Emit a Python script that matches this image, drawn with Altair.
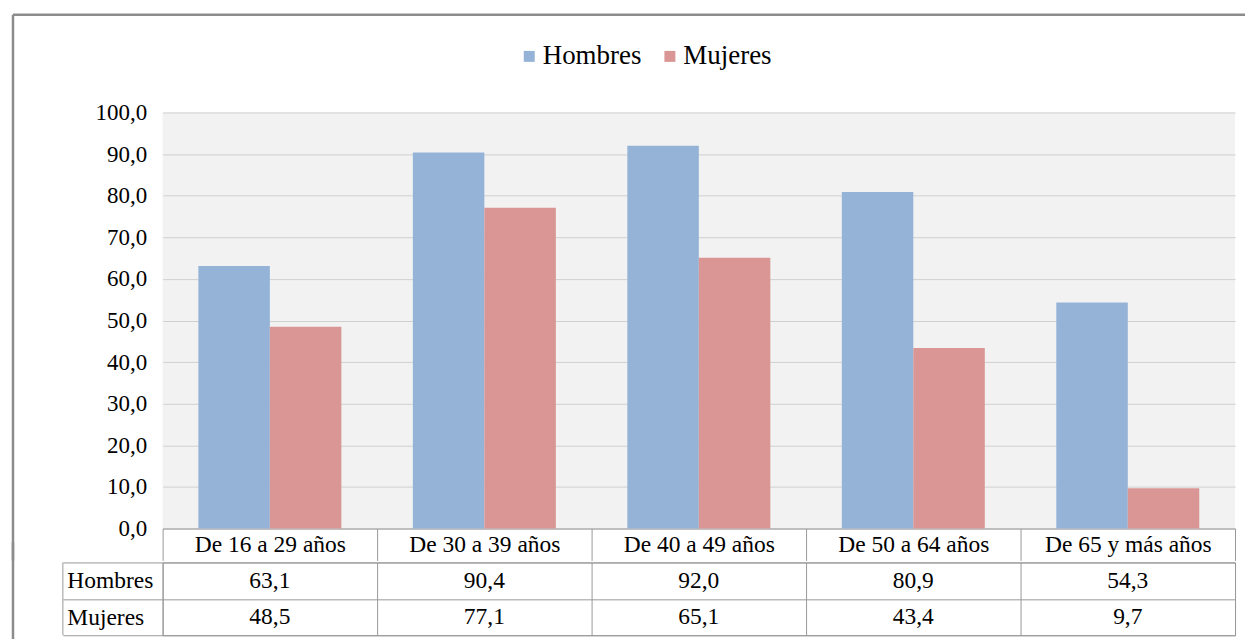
import altair as alt
import pandas as pd

categories = ["De 16 a 29 años", "De 30 a 39 años", "De 40 a 49 años",
              "De 50 a 64 años", "De 65 y más años"]
series = ["Hombres", "Mujeres"]
hombres = [63.1, 90.4, 92.0, 80.9, 54.3]
mujeres = [48.5, 77.1, 65.1, 43.4, 9.7]
colors = ["#95B3D7", "#D99694"]
y_ticks = [0, 10, 20, 30, 40, 50, 60, 70, 80, 90, 100]

rows = []
for c, h, m in zip(categories, hombres, mujeres):
    rows.append({"cat": c, "serie": "Hombres", "valor": h})
    rows.append({"cat": c, "serie": "Mujeres", "valor": m})
df = pd.DataFrame(rows)
df["texto"] = df["valor"].map(lambda v: f"{v:.1f}".replace(".", ","))
one = pd.DataFrame({"k": [0]})

FONT = "Liberation Serif"
LINE = "#999999"
FRAME = "#8c8c8c"

x_top = alt.X(
    "cat:N", sort=categories, title=None,
    scale=alt.Scale(paddingInner=0, paddingOuter=0),
    axis=alt.Axis(labelFont=FONT, labelFontSize=23.5, labelColor="#000000",
                  labelAngle=0, labelBaseline="middle", labelPadding=-16,
                  tickBand="extent", tickSize=32, tickColor=LINE,
                  domainColor=LINE, grid=False, labelLimit=300))

bars = alt.Chart(df).mark_bar().encode(
    x=x_top,
    xOffset=alt.XOffset("serie:N", sort=series,
                        scale=alt.Scale(paddingInner=0, paddingOuter=0.5)),
    y=alt.Y("valor:Q", title=None,
            scale=alt.Scale(domain=[0, 100], nice=False),
            axis=alt.Axis(values=y_ticks,
                          labelExpr="replace(format(datum.value, '.1f'), '.', ',')",
                          labelFont=FONT, labelFontSize=23, labelColor="#000000",
                          labelPadding=16, ticks=False, domain=False,
                          gridColor="#d0d0d0", gridWidth=1)),
    color=alt.Color("serie:N", sort=series,
                    scale=alt.Scale(domain=series, range=colors),
                    legend=alt.Legend(title=None, orient="none", direction="horizontal",
                                      legendX=354, legendY=-70,
                                      symbolType="square", symbolSize=121,
                                      symbolStrokeWidth=0, labelFont=FONT,
                                      labelFontSize=27, labelColor="#000000",
                                      labelOffset=0, columnPadding=15)),
)

frame_v = alt.Chart(one).mark_rule(color=FRAME, strokeWidth=2.5).encode(
    x=alt.value(-150), y=alt.value(-98), y2=alt.value(449))
frame_h = alt.Chart(one).mark_rule(color=FRAME, strokeWidth=2.5).encode(
    x=alt.value(-150), x2=alt.value(1085), y=alt.value(-98))

top = alt.layer(bars, frame_v, frame_h).properties(
    width=1075, height=417,
    view=alt.ViewBackground(fill="#f2f2f2", strokeWidth=0))

x_tab = alt.X(
    "cat:N", sort=categories, title=None,
    scale=alt.Scale(paddingInner=0, paddingOuter=0),
    axis=alt.Axis(labels=False, ticks=False, domain=False, grid=True,
                  tickBand="extent", gridColor=LINE))
y_tab = alt.Y(
    "serie:N", sort=series, title=None,
    scale=alt.Scale(paddingInner=0, paddingOuter=0),
    axis=alt.Axis(labelFont=FONT, labelFontSize=23.5, labelColor="#000000",
                  labelAlign="left", labelPadding=-4, tickSize=100,
                  tickBand="extent", tickColor=LINE, domain=False,
                  grid=True, gridColor=LINE))

cells = alt.Chart(df).mark_text(font=FONT, fontSize=23.5, color="#000000").encode(
    x=x_tab, y=y_tab, text="texto:N")
left_line = alt.Chart(one).mark_rule(color=LINE).encode(
    x=alt.value(-100), y=alt.value(0), y2=alt.value(73))
frame_v2 = alt.Chart(one).mark_rule(color=FRAME, strokeWidth=2.5).encode(
    x=alt.value(-150), y=alt.value(-20), y2=alt.value(78))

table = alt.layer(cells, left_line, frame_v2).properties(
    width=1075, height=73,
    view=alt.ViewBackground(stroke=LINE, strokeWidth=1))

chart = alt.vconcat(top, table, spacing=-22).resolve_scale(
    x="independent", y="independent", color="independent"
).properties(
    padding={"left": 3, "top": 4, "right": 0, "bottom": 0},
    background="#ffffff",
).configure_view(strokeWidth=0)

chart.save("out.html", embed_options={"renderer": "svg", "actions": False})
